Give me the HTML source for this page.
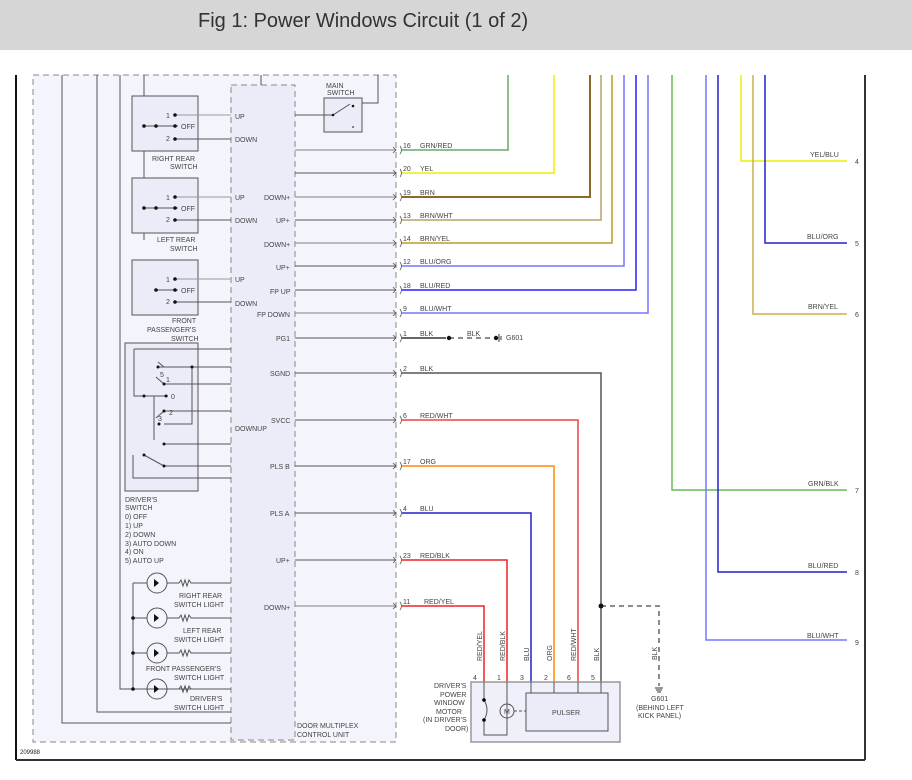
<!DOCTYPE html>
<html><head><meta charset="utf-8"><style>
body{margin:0;width:912px;height:780px;background:#fff;overflow:hidden;font-family:"Liberation Sans",sans-serif}
#t{position:absolute;left:0;top:0;width:912px;height:50px;background:#d6d6d6}
#t span{position:absolute;left:198px;top:10px;font-size:20px;color:#333}
svg{position:absolute;left:0;top:0}
text{font-family:"Liberation Sans",sans-serif;font-size:7px;fill:#444}
</style></head><body>
<div id="t"><span>Fig 1: Power Windows Circuit (1 of 2)</span></div>
<svg width="912" height="780" viewBox="0 0 912 780">
<line x1="16" y1="75" x2="16" y2="760" stroke="#111" stroke-width="2"/>
<line x1="865" y1="75" x2="865" y2="760" stroke="#333" stroke-width="2"/>
<line x1="16" y1="760" x2="865" y2="760" stroke="#333" stroke-width="2"/>
<rect x="33" y="75" width="363" height="667" fill="#f4f4fd" stroke="#888" stroke-dasharray="6,4"/>
<rect x="231" y="85" width="64" height="655" fill="#ececf8" stroke="#888" stroke-dasharray="6,4"/>
<g stroke="#555" fill="none">
<path d="M62 75V723H231M97 75V712H231M120 75V689H231M144 75V240M261 75V85M378 75V103H362"/>
</g>
<!-- switch boxes -->
<g stroke="#555" fill="#ececf8">
<rect x="132" y="96" width="66" height="55"/><rect x="132" y="178" width="66" height="55"/><rect x="132" y="260" width="66" height="55"/>
<rect x="125" y="343" width="73" height="148"/><rect x="324" y="98" width="38" height="34"/>
</g>
<g stroke="#555" fill="none">
<path d="M144 126H178M144 208H178M156 290H178"/>
<path d="M175 115H231M175 139H231M175 197H231M175 220H231M175 279H231M175 302H231" stroke="#999"/>
<path d="M175 139H231M175 220H231M175 302H231"/>
<path d="M295 115H333L350 104"/>
<path d="M134 349H231M134 349V396H168M158 367H231M164 384H231M164 411H231M154 396V440M164 424H192V367M164 444H231M164 466H231M144 455L164 466M133 455V478H231"/>
<path d="M164 367L158 362M164 384L156 377M164 411L156 418" />
</g>
<g fill="#111">
<circle cx="175" cy="115" r="1.8"/><circle cx="175" cy="126" r="1.8"/><circle cx="175" cy="139" r="1.8"/><circle cx="144" cy="126" r="1.8"/><circle cx="156" cy="126" r="1.8"/>
<circle cx="175" cy="197" r="1.8"/><circle cx="175" cy="208" r="1.8"/><circle cx="175" cy="220" r="1.8"/><circle cx="144" cy="208" r="1.8"/><circle cx="156" cy="208" r="1.8"/>
<circle cx="175" cy="279" r="1.8"/><circle cx="175" cy="290" r="1.8"/><circle cx="175" cy="302" r="1.8"/><circle cx="156" cy="290" r="1.8"/>
<circle cx="158" cy="367" r="1.5"/><circle cx="192" cy="367" r="1.5"/><circle cx="164" cy="384" r="1.5"/><circle cx="144" cy="396" r="1.5"/><circle cx="166" cy="396" r="1.5"/><circle cx="164" cy="411" r="1.5"/><circle cx="159" cy="424" r="1.5"/><circle cx="164" cy="444" r="1.5"/><circle cx="144" cy="455" r="1.5"/><circle cx="164" cy="466" r="1.5"/>
<circle cx="333" cy="115" r="1.3"/><circle cx="353" cy="106" r="1.3"/><circle cx="353" cy="127" r="1.1" fill="#777"/>
</g>
<path d="M154 396V440" stroke="#555" stroke-dasharray="4,3" fill="none"/>
<!-- lights -->
<g stroke="#555" fill="none">
<path d="M133 583V689M133 583H147M133 618H147M133 653H147M133 689H147"/>
<circle cx="157" cy="583" r="10"/><circle cx="157" cy="618" r="10"/><circle cx="157" cy="653" r="10"/><circle cx="157" cy="689" r="10"/>
<path d="M167 583h12l2-3 2 6 2-6 2 6 2-6 2 3H231M167 618h12l2-3 2 6 2-6 2 6 2-6 2 3H231M167 653h12l2-3 2 6 2-6 2 6 2-6 2 3H231M167 689h12l2-3 2 6 2-6 2 6 2-6 2 3H231"/>
</g>
<g fill="#111"><path d="M154 579l5 4-5 4z"/><path d="M154 614l5 4-5 4z"/><path d="M154 649l5 4-5 4z"/><path d="M154 685l5 4-5 4z"/>
<circle cx="133" cy="618" r="1.8"/><circle cx="133" cy="653" r="1.8"/><circle cx="133" cy="689" r="1.8"/></g>
<!-- module to connector -->
<g stroke="#999" stroke-width="1.3" fill="none">
<path d="M295 150H396M295 197H396M295 243H396M295 313H396M295 606H396"/>
</g>
<g stroke="#555" fill="none">
<path d="M295 173H396M295 220H396M295 266H396M295 290H396M295 338H396M295 373H396M295 420H396M295 466H396M295 513H396M295 560H396"/>
</g>
<g stroke="#555" fill="none" stroke-width="0.8">
<path d="M393 147l3 3-3 3M393 170l3 3-3 3M393 194l3 3-3 3M393 217l3 3-3 3M393 240l3 3-3 3M393 263l3 3-3 3M393 287l3 3-3 3M393 310l3 3-3 3M393 335l3 3-3 3M393 370l3 3-3 3M393 417l3 3-3 3M393 463l3 3-3 3M393 510l3 3-3 3M393 557l3 3-3 3M393 603l3 3-3 3"/>
<path d="M400 146q3 4 0 8M400 169q3 4 0 8M400 193q3 4 0 8M400 216q3 4 0 8M400 239q3 4 0 8M400 262q3 4 0 8M400 286q3 4 0 8M400 309q3 4 0 8M400 334q3 4 0 8M400 369q3 4 0 8M400 416q3 4 0 8M400 462q3 4 0 8M400 509q3 4 0 8M400 556q3 4 0 8M400 602q3 4 0 8"/>
</g>
<!-- colored wires -->
<g fill="none" stroke-width="1.5">
<path d="M402 150H508V75" stroke="#6a6"/>
<path d="M402 173H554V75" stroke="#ee0"/>
<path d="M402 197H590V75" stroke="#8a6a2a" stroke-width="2"/>
<path d="M402 220H601V75" stroke="#b9a06a"/>
<path d="M402 243H612V75" stroke="#b8a020"/>
<path d="M402 266H624V75" stroke="#77f"/>
<path d="M402 290H636V75" stroke="#22f"/>
<path d="M402 313H648V75" stroke="#77f"/>
<path d="M402 338H446" stroke="#333"/>
<path d="M402 373H601V682" stroke="#555"/>
<path d="M402 420H578V682" stroke="#e44"/>
<path d="M402 466H554V682" stroke="#f80"/>
<path d="M402 513H531V682" stroke="#22c"/>
<path d="M402 560H507V682" stroke="#e22"/>
<path d="M402 606H484V682" stroke="#e22"/>
<path d="M741 75V161H847" stroke="#ee0"/>
<path d="M765 75V243H847" stroke="#22c"/>
<path d="M753 75V314H847" stroke="#c8b050"/>
<path d="M672 75V490H847" stroke="#6b5"/>
<path d="M718 75V572H847" stroke="#22c"/>
<path d="M706 75V640H847" stroke="#77f"/>
</g>
<g stroke="#666" stroke-width="1.5" stroke-dasharray="5,4" fill="none"><path d="M449 338H496"/><path d="M601 606H659V686"/></g>
<g fill="#111"><circle cx="449" cy="338" r="2.2"/><circle cx="496" cy="338" r="2.2"/><circle cx="601" cy="606" r="2.5"/></g>
<path d="M499 334v8M501 336v4M655 688h8M656 690h6M657 692h4" stroke="#333"/>
<!-- motor box -->
<rect x="471" y="682" width="149" height="60" fill="#f0f0fa" stroke="#999" stroke-width="1.5"/>
<rect x="526" y="693" width="82" height="38" fill="#ececf8" stroke="#555"/>
<g stroke="#555" fill="none"><path d="M484 682V700q6 10 0 20V735H507V682M531 682V693M554 682V693M578 682V693M601 682V693"/><circle cx="507" cy="711" r="7"/><path d="M514 711H526" stroke-dasharray="3,2"/></g>
<circle cx="484" cy="700" r="1.8"/><circle cx="484" cy="720" r="1.8"/>
<text x="326" y="88">MAIN</text><text x="327" y="95">SWITCH</text>
<g>
<text x="166" y="118">1</text><text x="181" y="129">OFF</text><text x="166" y="141">2</text>
<text x="166" y="200">1</text><text x="181" y="211">OFF</text><text x="166" y="222">2</text>
<text x="166" y="282">1</text><text x="181" y="293">OFF</text><text x="166" y="304">2</text>
<text x="152" y="161">RIGHT REAR</text><text x="170" y="169">SWITCH</text>
<text x="157" y="242">LEFT REAR</text><text x="170" y="251">SWITCH</text>
<text x="172" y="323">FRONT</text><text x="147" y="332">PASSENGER'S</text><text x="171" y="341">SWITCH</text>
<text x="160" y="377">5</text><text x="166" y="382">1</text><text x="171" y="399">0</text><text x="169" y="415">2</text><text x="158" y="421">3</text>
<text x="125" y="502">DRIVER'S</text><text x="125" y="510">SWITCH</text><text x="125" y="519">0) OFF</text><text x="125" y="528">1) UP</text><text x="125" y="537">2) DOWN</text><text x="125" y="546">3) AUTO DOWN</text><text x="125" y="554">4) ON</text><text x="125" y="563">5) AUTO UP</text>
<text x="179" y="598">RIGHT REAR</text><text x="174" y="607">SWITCH LIGHT</text>
<text x="183" y="633">LEFT REAR</text><text x="174" y="642">SWITCH LIGHT</text>
<text x="146" y="671">FRONT PASSENGER'S</text><text x="174" y="680">SWITCH LIGHT</text>
<text x="190" y="701">DRIVER'S</text><text x="174" y="710">SWITCH LIGHT</text>
<text x="235" y="119">UP</text><text x="235" y="142">DOWN</text><text x="235" y="200">UP</text><text x="235" y="223">DOWN</text><text x="235" y="282">UP</text><text x="235" y="306">DOWN</text><text x="235" y="431">DOWNUP</text>
<text x="264" y="200">DOWN+</text><text x="276" y="223">UP+</text><text x="264" y="247">DOWN+</text><text x="276" y="270">UP+</text><text x="270" y="294">FP UP</text><text x="257" y="317">FP DOWN</text><text x="276" y="341">PG1</text><text x="270" y="376">SGND</text><text x="271" y="423">SVCC</text><text x="270" y="469">PLS B</text><text x="270" y="516">PLS A</text><text x="276" y="563">UP+</text><text x="264" y="610">DOWN+</text>
<text x="297" y="728">DOOR MULTIPLEX</text><text x="297" y="737">CONTROL UNIT</text>
<text x="20" y="754" style="font-size:6px;fill:#222">209988</text>
<text x="403" y="148">16</text><text x="420" y="148">GRN/RED</text>
<text x="403" y="171">20</text><text x="420" y="171">YEL</text>
<text x="403" y="195">19</text><text x="420" y="195">BRN</text>
<text x="403" y="218">13</text><text x="420" y="218">BRN/WHT</text>
<text x="403" y="241">14</text><text x="420" y="241">BRN/YEL</text>
<text x="403" y="264">12</text><text x="420" y="264">BLU/ORG</text>
<text x="403" y="288">18</text><text x="420" y="288">BLU/RED</text>
<text x="403" y="311">9</text><text x="420" y="311">BLU/WHT</text>
<text x="403" y="336">1</text><text x="420" y="336">BLK</text><text x="467" y="336">BLK</text><text x="506" y="340">G601</text>
<text x="403" y="371">2</text><text x="420" y="371">BLK</text>
<text x="403" y="418">6</text><text x="420" y="418">RED/WHT</text>
<text x="403" y="464">17</text><text x="420" y="464">ORG</text>
<text x="403" y="511">4</text><text x="420" y="511">BLU</text>
<text x="403" y="558">23</text><text x="420" y="558">RED/BLK</text>
<text x="403" y="604">11</text><text x="424" y="604">RED/YEL</text>
<text x="810" y="157">YEL/BLU</text><text x="855" y="164">4</text>
<text x="807" y="239">BLU/ORG</text><text x="855" y="246">5</text>
<text x="808" y="309">BRN/YEL</text><text x="855" y="317">6</text>
<text x="808" y="486">GRN/BLK</text><text x="855" y="493">7</text>
<text x="808" y="568">BLU/RED</text><text x="855" y="575">8</text>
<text x="807" y="638">BLU/WHT</text><text x="855" y="645">9</text>
<text transform="translate(482,661) rotate(-90)">RED/YEL</text>
<text transform="translate(505,661) rotate(-90)">RED/BLK</text>
<text transform="translate(529,661) rotate(-90)">BLU</text>
<text transform="translate(552,661) rotate(-90)">ORG</text>
<text transform="translate(576,661) rotate(-90)">RED/WHT</text>
<text transform="translate(599,661) rotate(-90)">BLK</text>
<text transform="translate(657,660) rotate(-90)">BLK</text>
<text x="473" y="680">4</text><text x="497" y="680">1</text><text x="520" y="680">3</text><text x="544" y="680">2</text><text x="567" y="680">6</text><text x="591" y="680">5</text>
<text x="434" y="688">DRIVER'S</text><text x="440" y="697">POWER</text><text x="434" y="705">WINDOW</text><text x="436" y="714">MOTOR</text><text x="423" y="722">(IN DRIVER'S</text><text x="445" y="731">DOOR)</text>
<text x="552" y="715">PULSER</text><text x="504" y="714">M</text>
<text x="651" y="701">G601</text><text x="636" y="710">(BEHIND LEFT</text><text x="638" y="718">KICK PANEL)</text>
</g>
</svg>
</body></html>
